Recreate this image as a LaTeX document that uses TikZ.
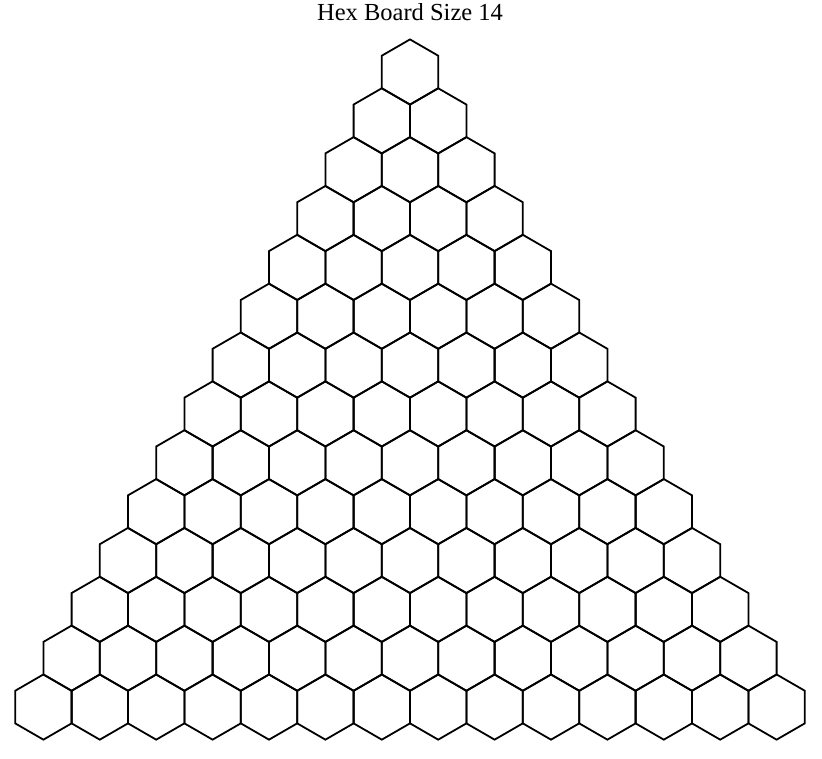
\documentclass[tikz,border=0pt]{standalone}
\usepackage{fontspec}
\setmainfont{Liberation Serif}
\usepackage{tikz}
\usetikzlibrary{calc}

\begin{document}
\begin{tikzpicture}[y=-1pt, x=1pt, inner sep=0pt, outer sep=0pt,
    hexcell/.style={draw=black,line join=miter,line width=1.8pt}]
  \useasboundingbox (0,0) rectangle (822,758);
  \node[anchor=base,font=\fontsize{24.5}{28}\selectfont] (title) at (410,20) {Hex Board Size 14};
  % rows of the board, one more cell per row
  \foreach \r in {0,...,13}{
    \foreach \c in {0,...,\r}{
      \pgfmathsetmacro{\cx}{410+(\c-\r/2)*56.4}
      \pgfmathsetmacro{\cy}{72+\r*48.85}
      \path[hexcell] (\cx,\cy-32.6) -- (\cx+28.2,\cy-16.3) --
        (\cx+28.2,\cy+16.3) -- (\cx,\cy+32.6) -- (\cx-28.2,\cy+16.3) --
        (\cx-28.2,\cy-16.3) -- cycle;
    }
  }
\end{tikzpicture}
\end{document}
